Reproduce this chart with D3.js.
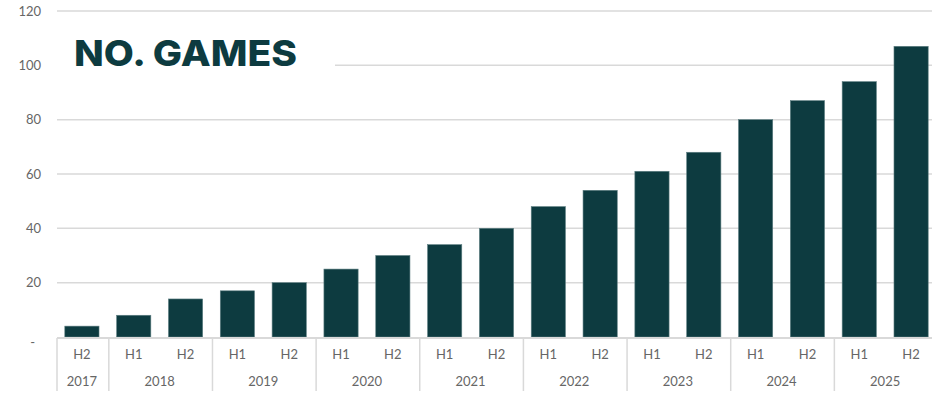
<!DOCTYPE html>
<html>
<head>
<meta charset="utf-8">
<script src="https://cdn.jsdelivr.net/npm/d3@7"></script>
<style>
  html, body { margin: 0; padding: 0; background: #fff; }
  svg { display: block; }
</style>
</head>
<body>
<svg id="chart" width="932" height="394"></svg>
<script>
// Half-year periods and number of games released per period
const years = ["2017", "2018", "2018", "2019", "2019", "2020", "2020", "2021", "2021",
               "2022", "2022", "2023", "2023", "2024", "2024", "2025", "2025"];
const halves = ["H2", "H1", "H2", "H1", "H2", "H1", "H2", "H1", "H2",
                "H1", "H2", "H1", "H2", "H1", "H2", "H1", "H2"];
const games = [4, 8, 14, 17, 20, 25, 30, 34, 40, 48, 54, 61, 68, 80, 87, 94, 107];
const yTicks = [0, 20, 40, 60, 80, 100, 120];
const title = "NO. GAMES";

(function () {
  const svg = d3.select("#chart");
  const W = 932;
  const mLeft = 56, mRight = 937, mTop = 11, mBottom = 337;
  const barColor = "#0d3b40";
  const gridColor = "#d9d9d9";
  const textColor = "#666666";

  const periods = games.map((v, i) => ({ key: i, year: years[i], half: halves[i], value: v }));

  const x = d3.scaleBand()
    .domain(periods.map(d => d.key))
    .range([mLeft, mRight])
    .paddingInner(0.34)
    .paddingOuter(0.17);

  const y = d3.scaleLinear().domain([0, 120]).range([mBottom, mTop]);

  // Horizontal gridlines
  svg.append("g")
    .selectAll("line")
    .data(yTicks.filter(t => t > 0))
    .join("line")
    .attr("x1", mLeft + 1).attr("x2", W)
    .attr("y1", d => y(d)).attr("y2", d => y(d))
    .attr("stroke", gridColor).attr("stroke-width", 1.5);

  // Y axis labels (zero shown as a dash)
  const yAxis = d3.axisLeft(y).tickValues(yTicks).tickSize(0).tickPadding(0)
    .tickFormat(d => d === 0 ? "-" : d);
  const ya = svg.append("g").attr("transform", "translate(41,0)").call(yAxis);
  ya.select(".domain").remove();
  ya.selectAll("text")
    .attr("fill", textColor)
    .attr("font-family", "Lato, sans-serif")
    .attr("font-size", 13);
  ya.selectAll(".tick").filter(d => d === 0).select("text").attr("dy", "0.7em").attr("x", -6);

  // Bars
  svg.append("g")
    .selectAll("rect")
    .data(periods)
    .join("rect")
    .attr("x", d => x(d.key))
    .attr("width", x.bandwidth())
    .attr("y", d => y(d.value))
    .attr("height", d => y(0) - y(d.value))
    .attr("fill", barColor)
    .attr("stroke", "#5e7f82").attr("stroke-width", 0.6);

  // Baseline
  svg.append("line")
    .attr("x1", mLeft + 1).attr("x2", W)
    .attr("y1", mBottom + 1).attr("y2", mBottom + 1)
    .attr("stroke", gridColor).attr("stroke-width", 2);

  // Half labels
  svg.append("g")
    .selectAll("text")
    .data(periods)
    .join("text")
    .attr("x", d => x(d.key) + x.bandwidth() / 2)
    .attr("y", 359)
    .attr("text-anchor", "middle")
    .attr("fill", textColor)
    .attr("font-family", "Lato, sans-serif")
    .attr("font-size", 13)
    .text(d => d.half);

  // Year groups with separators
  const gap = x.step() * x.paddingInner() / 2;
  const groups = d3.groups(periods, d => d.year).map(([yr, items]) => ({
    year: yr,
    x0: x(items[0].key) - gap,
    x1: x(items[items.length - 1].key) + x.bandwidth() + gap
  }));

  svg.append("g")
    .selectAll("line")
    .data(groups)
    .join("line")
    .attr("x1", d => d.x0 + 1).attr("x2", d => d.x0 + 1)
    .attr("y1", mBottom + 1).attr("y2", 391)
    .attr("stroke", gridColor).attr("stroke-width", 1.5);

  svg.append("g")
    .selectAll("text")
    .data(groups)
    .join("text")
    .attr("x", d => (d.x0 + d.x1) / 2)
    .attr("y", 386)
    .attr("text-anchor", "middle")
    .attr("fill", textColor)
    .attr("font-family", "Lato, sans-serif")
    .attr("font-size", 13)
    .text(d => d.year);

  // Title on a white panel over the gridlines
  svg.append("rect")
    .attr("x", mLeft + 1).attr("y", 28).attr("width", 278).attr("height", 52)
    .attr("fill", "#fff");
  svg.append("text")
    .attr("x", 74).attr("y", 66)
    .attr("fill", barColor)
    .attr("font-family", "Inter, 'Open Sans', sans-serif")
    .attr("font-weight", 800)
    .attr("font-size", 36)
    .attr("textLength", 223)
    .attr("lengthAdjust", "spacingAndGlyphs")
    .text(title);
})();
</script>
</body>
</html>
